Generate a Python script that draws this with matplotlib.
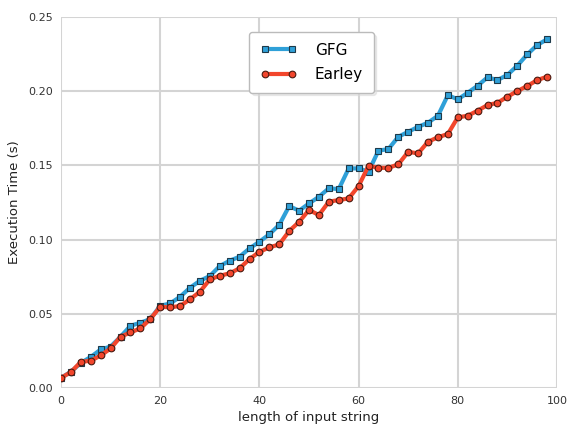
import matplotlib.pyplot as plt
import numpy as np

# string lengths (0, 2, ..., 98)
lengths = list(range(0, 100, 2))

gfg_times = [0.0069, 0.011, 0.017, 0.021, 0.026, 0.028, 0.0346, 0.042, 0.044, 0.0465,
             0.0555, 0.057, 0.0615, 0.0676, 0.0723, 0.0755, 0.0822, 0.0858, 0.0885, 0.0941,
             0.0986, 0.1036, 0.110, 0.1226, 0.1195, 0.1244, 0.1289, 0.1346, 0.1341, 0.148,
             0.148, 0.1458, 0.160, 0.161, 0.1693, 0.1727, 0.176, 0.1788, 0.1835, 0.1974,
             0.1945, 0.199, 0.2037, 0.2094, 0.2075, 0.211, 0.2172, 0.2248, 0.2311, 0.235]

earley_times = [0.0069, 0.0108, 0.0177, 0.0184, 0.022, 0.0267, 0.0346, 0.0375, 0.0402, 0.0465,
                0.0548, 0.0544, 0.0553, 0.0598, 0.0649, 0.0732, 0.0757, 0.0773, 0.0807, 0.0869,
                0.0918, 0.0948, 0.0968, 0.1058, 0.112, 0.120, 0.1166, 0.1256, 0.1267, 0.1278,
                0.1361, 0.1498, 0.1484, 0.1484, 0.1507, 0.1592, 0.1581, 0.166, 0.169, 0.1712,
                0.1824, 0.1835, 0.1869, 0.1907, 0.1922, 0.1963, 0.2001, 0.2035, 0.2075, 0.2098]

x_ticks = [0, 20, 40, 60, 80, 100]
y_ticks = [0.00, 0.05, 0.10, 0.15, 0.20, 0.25]

fig = plt.figure(figsize=(5.76, 4.26), dpi=100)
ax = fig.add_axes([0.106, 0.089, 0.861, 0.871])

ax.plot(lengths, gfg_times, color='#2fa0d8', linewidth=3, marker='s', markersize=4.8,
        markeredgecolor='#1d3a4a', markeredgewidth=0.8, label='GFG', zorder=3)
ax.plot(lengths, earley_times, color='#f2462c', linewidth=3, marker='o', markersize=4.8,
        markeredgecolor='#4a1a10', markeredgewidth=0.8, label='Earley', zorder=4)

ax.set_xlim(0, 100)
ax.set_ylim(0, 0.25)
ax.set_xticks(x_ticks)
ax.set_yticks(y_ticks)
ax.set_xticklabels([str(t) for t in x_ticks])
ax.set_yticklabels([f'{t:.2f}' for t in y_ticks])
ax.tick_params(length=0, labelsize=8, labelcolor='#333333', pad=6)

ax.grid(True, color='#d4d4d4', linewidth=1.5)
ax.set_axisbelow(True)
for s in ax.spines.values():
    s.set_visible(False)

ax.set_xlabel('length of input string', fontsize=9.5, color='#222222', labelpad=3)
ax.set_ylabel('Execution Time (s)', fontsize=9.5, color='#222222', labelpad=5)

leg = ax.legend(loc='upper center', bbox_to_anchor=(0.505, 0.98), numpoints=2,
                fontsize=11, fancybox=True, shadow={'color': '#d8d8d8'},
                borderpad=0.7, handlelength=2.4, handletextpad=1.2,
                labelspacing=0.6, framealpha=1)
leg.get_frame().set_edgecolor('#bbbbbb')

plt.savefig('out.png', dpi=100)
plt.close()
